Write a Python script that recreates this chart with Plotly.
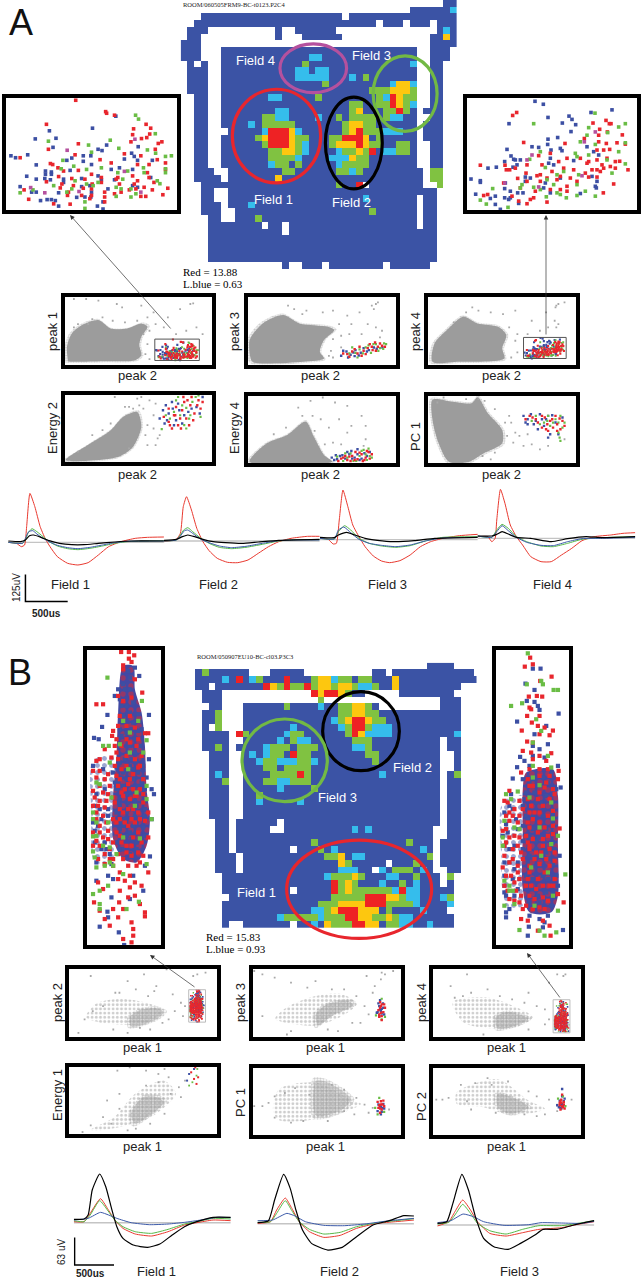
import re
import plotly.graph_objects as go

W, H = 642, 1280
BLUE, CYAN, GREEN, YELLOW, RED = "#3b53a5", "#35bdec", "#80c241", "#fdc70f", "#ee2224"
DOT_RED, DOT_BLUE, DOT_GREEN, DOT_PURPLE = "#e8262d", "#3c4fa3", "#6abd45", "#b5519e"
GREY = "#9c9c9c"

# ---------- occupancy maps: one text row per map row, token = rate class + column span ----------
MAP_A_ROWS = [
 "b39-40", "b34-39 c40", "b3-23 b25-40", "b2-28 b30-32 b34-36 b38-40",
 "b1-3 b14 b17-22 b38 c39 b40", "b1-2 b14 b18-23 b37-38 y39 b40", "b0-2 b37-40",
 "b0-2 b6-34 b37-39", "b0-2 b6-34 c19-20 b37-39", "b1 b3 b6-34 g18 c34 b37-38",
 "b1-3 b6-34 c17-18 c20-21 b37-38", "b1-3 b6-34 c17-21 c25 g27 b37-38",
 "b1-3 b6-34 g21 c31 y32-33 c34 b37-38", "b1-3 b6-34 g28-30 y31-33 g34 b37-38",
 "b2-3 b6-34 c13-14 g20 g29 c30 r31 y32 g33-34 b37-38",
 "b2-3 b6-34 g25-26 g29-30 r31 y32 g33 c34 b37-38",
 "b2-3 b6-34 c14-15 g25 y26 g30-31 r32 g33 b36-38",
 "b2-3 b6-34 g12-13 c14-15 c20 g23 g25-28 g30 c31-32 b37-38",
 "b2-3 b6-34 c10 g12-16 g24 y25-26 g27-28 b36-38",
 "b2-3 b7-34 c12 r13-15 y16 c17 g24 y25 r26 g27-29 c30-32 b36-38",
 "b2-3 b6-34 g11 y12 r13-15 y16 g17-18 g22-23 r24-26 y27 g29 b36-38",
 "b2-3 b6-34 g12 r13-15 y16 g17 c18 g22 y23-25 r26 y27 g28-29 g32-33 b37-38",
 "b2-3 b6-34 g13-14 y15-16 g17 c18 c23 g24-25 y26 g27 r28 c30-31 g32-33 b37-38",
 "b2-3 b6-34 g13-16 c17 c22-24 y25 g26-27 b37-38",
 "b2-3 b6-34 c13 g14-15 g17 c23 g24-27 b37-38",
 "b2-4 b7-35 g15-16 g23-24 c25 g26 g37-38", "b2-5 b7-35 y14 g37-38",
 "b3-5 b6-35 g23 r26 .27 g38", "b3-4 b7-36 b37", "b3-4 b7-34 c27 b36-37",
 "b3-5 b7-34 c10 b36-37", "b3-5 b8-34 g28 b36-37", "b4-5 b8-34 g11 b36-37",
 "b4-37 .12 .15 .35", "b4-37 .15", "b4-37", "b4-37", "b4-37", "b4-37",
 "b15 b18-20 b22-29 b31-36",
]
MAP_B_ROWS = [
 "b34-37", "b0 g1 b2-7 b11-15 b26-27 b29-40",
 "b0-3 c4 b5 r6 b7 c8 g9 b10-12 r13 b14-16 g17 y18-19 c20 g21-22 b23 g24-25 b26-28 y29 b30-41",
 "b0-1 b3-9 r10 y11 g12 r13 g14-15 r16 g17 y18-19 g20 y21-22 g23 c24-25 g26 b27-28 y29 b30-38",
 "b1-3 r17 y18 r19-20 y21 g22 b23-24 b30-37", "b1-3 g18 b36-38",
 "b2-3 b7-26 g13 c18 g21-22 y23-24 g25 b36-38",
 "b1-2 g3 b7-35 g21-22 y23-24 g25-26 b36-38",
 "b1-2 g3 b7-35 c20 g21 y22 r23-24 y25 g26-27 b36-38",
 "b1 g3 b7-35 c14 c21 g22 r23-24 g25 c26-28 b36-38",
 "b1-4 r6 g7 b8-35 c13 g14-15 g22 r23 y24 c25-28 b36-37 c38",
 "b1-4 b7-35 c12 g14 c15-16 g23-25 b37-38",
 "b1-2 g3 b4 b6 b7-35 c10 g11-13 g15-17 c23-24 g25 b37-38",
 "b2-4 b7-35 c8 c10 g11-12 r14 g15-16 g25-26 b38",
 "b2-4 b7-35 c9 g10-11 c12-14 g15-16 c17 g26 b38",
 "b2-4 b7-35 g10-11 g13-16 b38",
 "b2 c3 b4 b7-35 g11-14 r15 g16 c27 b37 g38",
 "b2-3 g4 b7-35 g10-11 c12-13 g14-16 b37-38", "b2-4 b7-35 c12 g17 b37-38",
 "b2-4 b7-35 g9 b37-38", "b2-4 b7-35 c9 c15 b37-38", "b2-4 b7-35 b37-38",
 "b2-4 b7-35 b37-38", "b3-4 b6-35 .12 b37-38", "b3-4 b6-34 .11-12 c23 c25 b37-38",
 "b3-4 b6-34 b37-38", "b3-4 b6-34 g17 g31 b36-38",
 "b3-4 b6-34 .14 g18 c20 c33 b36-38", "b3-5 b7-34 g19-20 y21 c23-24 g34 b36-38",
 "b3-5 b7-34 y21 g22 .28 g32 b36-38", "b3-5 b7-35 c21-23 .26 c27 g29-31 c33 .35 b37-38",
 "b4-35 c19 g20-21 g22 y23 g24 c28-29 g32 g37", "b4-35 r20 g21 y22 g23 c27 g30 c32 b37",
 "b4-36 .14 r20 g21 y22 g23-28 c29 r30 c31-32 b37",
 "b5-36 g20-24 r25-28 y28-29 g30 c31-32 c36 g37",
 "b4-36 g18-20 y21-24 r25-27 g28-31 c32 c37",
 "b4-36 c17-18 g19 y20 r21-23 y24-26 g28 c33",
 "b4-37 c12 g13-17 c18 g19-21 r22-23 y24-25 g26-27 y28 g29 c30-31",
 "b4 b7-13 b15-37 c17 y19 g20-22 r23-24 y25-26 g28-29 c30-31 c34",
]
RATE_CLASS = {"b": 1, "c": 2, "g": 3, "y": 4, "r": 5, ".": None}
MAP_COLS = 42

# place-field ellipses, in map columns / rows: x0, x1, y0, y1, colour
ELLIPSES_A = [(7.17, 20.3, 12.77, 26.7, "#e8262d"), (14.25, 24.15, 6.03, 13.26, "#b5519e"),
              (28.1, 37.6, 7.8, 19.05, "#72b944"), (21.0, 29.45, 13.95, 27.6, "#000000")]
ELLIPSES_B = [(12.98, 34.3, 25.58, 40.04, "#e8262d"), (18.27, 29.55, 3.76, 15.38, "#000000"),
              (6.41, 18.96, 7.78, 19.94, "#72b944")]

# ---------- enlarged cluster views ----------
IA_RED = [(222,27),(313,62),(316,67),(340,73),(133,101),(398,115),(436,101),(450,113),(447,131),(395,133),(422,145),(438,142),(390,155),(484,155),(230,161),(139,178),(53,204),(473,160),(464,178),(420,198),(370,192),(145,222),(152,225),(220,195),(296,210),(330,220),(410,225),(445,225),(470,210),(495,220),(168,235),(185,245),(230,243),(270,255),(350,265),(395,260),(440,250),(495,240),(170,262),(210,268),(250,270),(300,265),(345,270),(410,275),(445,265),(133,278),(180,285),(215,290),(272,285),(300,280),(355,285),(400,285),(460,280),(175,297),(200,310),(245,298),(270,300),(310,310),(385,303),(430,295),(455,303),(502,298),(65,303),(197,320),(240,320),(270,320),(310,325),(340,315),(420,323),(435,323),(487,318),(79,332),(205,347),(155,346),(265,330),(310,340),(360,310),(405,300)]
IA_BLUE = [(344,76),(273,113),(142,121),(99,146),(162,144),(153,172),(76,195),(25,198),(39,204),(290,178),(302,182),(316,165),(245,198),(268,198),(210,205),(195,212),(392,190),(412,170),(400,200),(370,208),(102,226),(130,245),(148,248),(130,255),(148,255),(205,243),(245,215),(270,225),(330,240),(355,235),(410,212),(455,212),(73,261),(102,270),(128,268),(145,272),(185,270),(185,280),(240,268),(290,260),(300,272),(340,272),(450,265),(53,293),(240,293),(265,290),(320,300),(395,290),(410,295),(88,310),(102,310),(170,312),(225,326),(270,310),(115,336),(135,333),(148,333),(160,336),(170,353),(250,325),(268,325),(288,353),(305,362),(305,340),(395,240)]
IA_GREEN = [(404,73),(413,85),(464,130),(139,153),(261,165),(327,150),(353,175),(270,187),(440,180),(465,190),(495,200),(513,198),(183,212),(216,230),(178,238),(255,240),(300,235),(380,245),(428,235),(495,238),(495,250),(350,250),(290,280),(255,285),(275,290),(430,250),(478,284),(220,275),(92,303),(53,312),(195,310),(210,300),(345,295),(360,300),(390,300),(405,315),(390,325),(345,323),(250,340),(250,360),(365,270),(470,275),(155,290)]
IA_PURPLE = [(196,181),(402,147),(85,296),(128,312),(232,308),(370,246),(420,310)]

IB_RED = [(157,75),(169,66),(437,90),(447,100),(398,98),(452,100),(418,117),(441,125),(486,134),(415,135),(190,157),(314,160),(372,145),(415,155),(438,160),(470,158),(495,162),(235,197),(270,190),(410,180),(430,180),(448,178),(60,226),(134,226),(138,240),(148,240),(165,235),(200,225),(245,225),(295,215),(320,205),(360,205),(385,215),(410,210),(440,205),(465,215),(478,214),(503,240),(197,250),(240,255),(275,245),(310,235),(340,240),(375,250),(395,240),(430,235),(450,230),(465,235),(172,266),(230,258),(260,265),(300,260),(330,265),(385,262),(410,262),(460,283),(200,275),(240,275),(290,270),(350,275),(425,225),(420,245),(380,220),(180,295),(225,305),(270,300),(320,290),(300,300),(320,305),(429,310),(70,318),(82,315),(155,320),(175,335),(210,330),(220,325),(260,338),(200,343),(130,280),(410,240)]
IB_BLUE = [(224,32),(249,41),(263,81),(326,77),(335,87),(146,100),(306,98),(346,103),(392,66),(455,58),(332,124),(263,147),(292,142),(215,170),(235,172),(262,163),(140,178),(272,180),(300,175),(305,182),(152,198),(160,208),(180,210),(165,210),(133,215),(83,235),(108,232),(158,232),(170,225),(270,205),(265,220),(280,225),(340,212),(380,170),(400,185),(415,195),(32,268),(60,273),(60,278),(195,262),(195,275),(135,280),(210,265),(255,280),(300,265),(395,260),(410,275),(405,290),(408,295),(133,297),(150,305),(172,310),(188,310),(46,314),(105,320),(90,327),(133,325),(150,325),(145,330),(105,345),(120,360),(250,295),(270,310),(360,312),(175,342)]
IB_GREEN = [(404,68),(220,100),(385,112),(495,100),(475,110),(380,135),(442,127),(495,158),(360,155),(405,163),(475,185),(385,195),(240,185),(345,190),(208,208),(350,200),(440,210),(495,222),(455,250),(255,233),(310,245),(290,255),(355,255),(97,297),(185,285),(180,295),(220,293),(260,270),(280,285),(350,285),(375,305),(405,320),(60,332),(78,344),(143,354),(258,322),(300,315),(318,325),(350,318),(290,310),(240,300)]
IB_PURPLE = [(405,125),(372,155),(215,195),(133,280),(200,210),(365,258),(235,292)]

IC_CORE = [(130,60),(160,60),(165,130),(185,200),(195,300),(200,430),(210,520),(200,600),(170,650),(130,640),(100,580),(100,450),(110,330),(115,200)]
IC_LOBE = [(40,345),(100,330),(100,640),(45,650),(35,500)]
IC_RED = [(124,18),(147,18),(163,28),(147,38),(155,48),(130,58),(50,175),(70,175),(130,70),(165,100),(187,140),(115,150),(130,165),(155,155),(100,255),(97,270),(195,262),(205,262),(75,310),(60,340),(50,345),(40,375),(60,375),(85,385),(95,335),(110,320),(125,300),(180,360),(165,340),(150,400),(120,400),(90,420),(45,455),(60,465),(80,465),(105,470),(135,430),(170,450),(190,470),(50,500),(70,510),(100,520),(130,500),(160,490),(180,520),(40,560),(60,560),(85,555),(110,560),(145,540),(175,560),(205,575),(60,600),(90,610),(125,590),(155,600),(190,630),(75,655),(100,640),(130,640),(155,630),(170,660),(120,680),(150,690),(205,680),(115,700),(135,705),(165,710),(55,710),(120,735),(150,725),(185,720),(70,730),(165,750),(145,755),(180,775),(43,770),(118,770),(130,790),(195,800),(195,812),(75,820),(115,815),(155,830),(160,850),(160,870),(130,880),(155,890),(90,840),(100,790),(60,795),(120,210),(150,210),(110,280),(140,280),(175,280),(125,370),(160,430),(120,520),(140,600),(130,450),(155,520),
 (115,240),(140,240),(165,245),(105,300),(150,290),(170,300),(115,340),(140,330),(185,330),(105,360),(140,360),(175,365),(110,390),(160,385),(190,400),(115,420),(145,415),(180,430),(125,440),(165,450),(190,445),(100,455),(150,460),(120,490),(145,490),(175,500),(205,500),(110,530),(135,530),(165,530),(195,525),(120,570),(160,575),(185,590),(100,590),(140,620),(175,620),(115,625),(100,660),(145,660),(180,650),(50,395),(75,400),(60,420),(40,435),(70,440),(85,445),(55,480),(75,485),(40,480),(50,520),(80,530),(60,540),(70,575),(50,585),(85,580),(40,600),(75,625),(55,640),(90,640)]
IC_BLUE = [(130,70),(145,75),(165,65),(150,95),(178,90),(115,130),(105,150),(135,130),(125,180),(160,170),(83,207),(207,207),(67,243),(43,276),(57,280),(185,250),(130,230),(160,230),(140,260),(165,280),(180,300),(120,300),(145,320),(165,320),(207,340),(40,360),(70,370),(120,350),(150,360),(175,380),(100,380),(130,380),(200,395),(215,430),(222,445),(130,420),(150,440),(175,420),(110,430),(120,460),(145,470),(170,480),(195,490),(60,490),(85,490),(215,520),(110,500),(135,520),(165,510),(190,545),(40,530),(55,540),(120,550),(150,560),(180,580),(45,590),(75,590),(110,590),(130,610),(155,580),(210,632),(50,650),(90,625),(170,610),(195,660),(85,690),(100,700),(160,690),(50,705),(190,735),(95,755),(60,843),(117,860),(133,898),(83,798),(85,815),(150,760),(120,480),(140,400),(155,340),(130,540),(160,540),(115,410),
 (130,115),(150,130),(120,160),(140,180),(150,200),(130,210),(175,205),(120,250),(155,250),(175,255),(125,270),(150,300),(135,340),(170,345),(110,365),(160,370),(190,360),(125,395),(160,400),(105,410),(185,410),(140,445),(195,430),(115,470),(165,465),(140,500),(195,510),(120,530),(170,530),(195,570),(140,570),(170,590),(120,610),(150,625),(50,445),(75,430),(45,480),(65,520),(85,510),(45,555),(65,610),(80,610),(95,655)]
IC_GREEN = [(83,95),(186,165),(130,225),(150,260),(175,225),(200,283),(70,300),(87,300),(120,295),(90,350),(150,320),(190,320),(145,370),(50,410),(60,415),(170,440),(200,420),(95,455),(200,460),(40,500),(40,520),(50,530),(85,530),(215,520),(130,575),(180,578),(40,572),(50,570),(70,600),(90,605),(40,617),(45,635),(110,625),(90,650),(50,665),(75,660),(200,655),(100,660),(130,685),(85,720),(60,735),(40,745),(177,768),(60,775),(60,790),(140,790),(165,480)]

ID_CORE = [(110,380),(190,370),(205,450),(205,600),(205,750),(185,800),(120,800),(100,730),(100,550),(100,430)]
ID_LOBE = [(40,470),(100,450),(100,780),(50,780),(35,620)]
ID_RED = [(122,35),(106,62),(130,55),(186,92),(152,105),(118,152),(142,150),(158,152),(120,185),(125,190),(113,210),(150,210),(127,230),(145,240),(165,245),(97,254),(190,254),(150,265),(180,268),(113,287),(130,290),(100,315),(125,320),(185,322),(207,375),(95,380),(205,400),(195,445),(60,435),(45,465),(55,470),(90,465),(120,420),(150,440),(170,410),(60,500),(75,490),(100,490),(125,480),(160,480),(190,495),(210,548),(60,525),(85,530),(115,530),(150,530),(40,555),(75,570),(110,570),(145,560),(175,570),(50,590),(85,600),(120,610),(160,600),(195,620),(45,630),(70,640),(100,640),(135,640),(170,640),(50,690),(85,680),(120,680),(165,680),(195,700),(45,720),(75,710),(110,720),(140,730),(180,720),(60,760),(75,765),(90,770),(120,750),(160,755),(205,745),(222,770),(100,790),(130,790),(165,790),(95,820),(115,825),(180,840),(160,825),(183,870),(145,855),(120,600),(135,500),(155,620),
 (50,510),(70,510),(90,510),(50,550),(60,575),(90,575),(45,600),(70,610),(95,620),(60,650),(85,660),(40,665),(65,690),(90,700),(55,735),(80,735),(95,750),(115,400),(150,390),(180,390),(130,420),(165,425),(190,430),(115,460),(145,460),(180,460),(120,500),(150,500),(175,510),(130,520),(190,540),(120,545),(165,545),(130,580),(160,580),(190,565),(115,590),(140,620),(180,610),(195,645),(120,660),(150,655),(180,660),(115,700),(145,700),(190,720),(125,720),(160,720),(135,760),(175,765),(110,780),(150,785),(130,340),(150,330),(170,345),(120,370),(150,370),(175,370)]
ID_BLUE = [(130,68),(153,68),(108,113),(135,132),(112,165),(135,168),(145,180),(150,192),(207,203),(83,227),(170,240),(135,265),(130,300),(175,295),(150,310),(92,333),(105,345),(130,330),(165,335),(205,360),(83,364),(120,360),(185,380),(70,398),(100,400),(130,400),(160,395),(213,425),(200,430),(65,445),(110,440),(140,470),(170,450),(100,480),(70,490),(45,500),(130,510),(160,510),(190,525),(50,535),(85,550),(130,550),(170,550),(40,570),(100,585),(140,585),(190,590),(210,630),(60,610),(100,610),(140,610),(170,620),(45,650),(75,670),(115,650),(150,660),(190,655),(45,690),(90,700),(130,700),(175,700),(200,690),(50,750),(45,740),(85,730),(130,730),(170,740),(205,720),(120,770),(150,770),(185,780),(60,790),(50,800),(50,815),(120,810),(150,820),(175,810),(118,843),(160,845),(220,853),(115,870),(165,830),(135,440),(110,510),(150,440),(120,630),
 (120,410),(175,410),(105,460),(155,470),(115,520),(190,505),(150,575),(120,575),(195,610),(165,600),(130,635),(180,640),(110,690),(160,690),(120,750),(145,750),(190,740),(100,540),(60,480),(80,520),(55,560),(75,600),(45,600),(60,650),(85,650),(70,700),(45,720),(75,750)]
ID_GREEN = [(115,22),(155,105),(160,115),(112,115),(192,132),(205,132),(65,180),(98,172),(140,220),(155,255),(130,290),(175,330),(130,360),(185,365),(130,395),(150,418),(50,445),(85,437),(120,455),(65,460),(185,470),(190,518),(45,525),(75,545),(90,550),(150,545),(40,575),(205,570),(185,595),(40,600),(155,630),(125,665),(175,680),(227,686),(45,705),(60,720),(60,735),(70,735),(190,750),(45,780),(75,775),(205,795),(90,853),(165,870),(200,860),(150,855),(135,780)]

# ---------- small feature-space panels: dense regions, loose grey spikes, cluster spikes ----------
A1_DENSE = [(15,22),(13,62),(25,102),(50,127),(90,142),(120,117),(160,117),(195,132),(210,122),(195,92),(190,67),(195,37),(180,22),(100,19),(15,19)]
A2_DENSE = [(15,22),(11,82),(43,132),(93,157),(133,132),(203,122),(218,112),(193,82),(183,47),(193,27),(143,17),(23,14)]
A3_DENSE = [(18,17),(23,72),(53,112),(93,152),(128,132),(178,122),(198,97),(188,57),(193,27),(83,17)]
A4_DENSE = [(10,15),(70,65),(120,105),(150,145),(185,160),(195,115),(175,55),(140,25),(65,13)]
A5_DENSE = [(11,13),(53,68),(103,93),(148,133),(168,88),(193,33),(213,13)]
A6_DENSE = [(18,198),(63,193),(113,188),(128,206),(153,158),(188,108),(188,68),(143,38),(108,13),(58,13),(33,68),(18,138)]
B1_DENSE = [(156,67),(178,87),(218,94),(238,82),(223,62),(183,42),(158,39)]
B2_DENSE = [(161,77),(191,107),(241,115),(251,102),(201,72),(166,42)]
B3_DENSE = [(160,67),(190,82),(240,62),(210,42),(165,32)]
B4_DENSE = [(158,70),(188,120),(223,120),(238,105),(198,60),(168,40)]
B5_DENSE = [(161,172),(191,167),(246,117),(221,82),(161,67)]
B6_DENSE = [(165,132),(210,117),(240,92),(195,72),(165,92)]
B1_HAZE = [(48,67),(73,107),(128,122),(188,112),(238,87),(188,47),(78,52)]
B2_HAZE = [(61,62),(91,97),(151,127),(221,137),(261,107),(221,67),(161,42),(81,52)]
B3_HAZE = [(55,112),(130,127),(190,107),(250,67),(210,37),(160,32),(80,52)]
B4_HAZE = [(58,20),(118,60),(168,130),(238,170),(268,130),(208,60),(148,35),(73,18)]
B5_HAZE = [(71,147),(161,167),(251,112),(271,102),(191,62),(71,52),(56,82)]
B6_HAZE = [(65,137),(165,177),(240,112),(280,87),(200,67),(130,92),(65,102)]

A1_LOOSE = [(30,205),(60,205),(90,200),(135,190),(148,180),(195,185),(225,165),(260,150),(290,175),(315,190),(322,192),(210,150),(230,130),(250,120),(215,110),(280,100),(305,110),(330,120),(200,100),(210,70),(205,40),(215,25),(30,120),(40,130),(65,130),(100,150),(75,145),(125,140),(155,135),(185,140),(345,100)]
A2_LOOSE = [(105,185),(120,175),(150,170),(190,165),(215,170),(250,155),(280,165),(310,185),(320,190),(325,195),(315,175),(230,130),(260,130),(300,130),(320,120),(235,95),(215,85),(235,60),(210,50),(205,35),(215,30),(140,160),(255,100),(285,100),(330,90),(335,110)]
A3_LOOSE = [(115,180),(130,170),(160,165),(190,160),(220,170),(260,140),(295,165),(318,180),(320,185),(325,190),(340,195),(316,140),(325,130),(320,120),(205,120),(225,100),(220,80),(225,45),(210,30),(250,100),(280,110),(300,120),(70,135),(100,165)]
A4_LOOSE = [(130,205),(185,200),(195,205),(215,195),(230,185),(225,150),(210,120),(205,90),(225,110),(235,80),(190,180),(175,170),(165,175),(200,170),(155,175),(120,125),(100,105),(165,50),(210,60),(40,40),(75,90),(240,90),(230,60)]
A5_LOOSE = [(130,175),(160,195),(190,205),(220,190),(250,180),(285,150),(295,120),(295,80),(290,60),(230,140),(205,115),(185,140),(165,150),(250,100),(260,120),(215,70),(195,65),(235,65),(100,115),(70,95),(140,150),(170,105)]
A6_LOOSE = [(130,200),(145,195),(170,170),(195,130),(210,130),(220,100),(230,90),(215,70),(240,60),(260,65),(280,50),(300,60),(340,80),(200,90),(205,150),(170,40),(140,30),(160,20),(30,190),(45,205),(100,200),(250,95)]
B1_LOOSE = [(60,190),(190,195),(245,210),(310,190),(320,195),(340,200),(150,175),(170,150),(220,160),(260,135),(280,110),(265,85),(285,70),(215,145),(200,130),(130,140),(120,140),(90,100),(65,85),(45,60),(30,20),(235,50),(250,60),(290,100),(180,35),(205,30),(115,30),(150,20)]
B2_LOOSE = [(10,205),(30,195),(60,185),(100,170),(140,155),(160,175),(200,150),(230,150),(260,130),(300,140),(320,180),(322,200),(330,195),(350,205),(285,190),(280,100),(290,75),(270,50),(250,50),(215,25),(190,30),(100,25),(90,15),(30,70),(305,160)]
B3_LOOSE = [(60,125),(80,130),(100,140),(140,150),(170,130),(200,120),(230,110),(260,100),(280,90),(310,195),(325,190),(330,195),(290,170),(240,140),(290,60),(280,45),(240,30),(130,15),(90,195),(20,215),(50,160)]
B4_LOOSE = [(125,200),(155,210),(195,200),(225,190),(240,205),(250,180),(290,170),(275,150),(255,130),(280,120),(225,165),(195,155),(130,130),(100,110),(90,60),(110,40),(150,20),(240,70),(205,40),(170,25),(40,15),(60,35),(130,85)]
B5_LOOSE = [(10,95),(30,95),(45,105),(60,125),(85,135),(110,150),(145,130),(200,160),(230,145),(260,120),(280,100),(300,90),(340,85),(290,75),(255,70),(60,60),(100,45),(130,50),(190,50),(230,80)]
B6_LOOSE = [(15,115),(30,115),(45,120),(75,160),(110,165),(140,180),(150,160),(190,170),(240,140),(260,125),(290,115),(310,100),(345,115),(280,70),(260,65),(90,110),(100,85),(160,75),(310,80),(230,70)]

A2_RED = [(250,40),(262,48),(275,42),(290,50),(300,58),(312,52),(325,62),(335,65),(285,35),(305,70),(240,42),(255,32),(268,55),(280,62),(295,40),(310,62),(320,50),(330,72),(342,62),(318,75)]
A2_BLUE = [(235,35),(248,48),(258,38),(270,52),(283,44),(298,48),(315,60),(268,34),(240,50),(252,30),(265,45),(278,36),(290,58),(303,52),(322,56),(336,60)]
A2_GREEN = [(280,54),(295,60),(308,44),(320,70),(330,58),(262,60),(340,72),(275,30),(255,42),(270,44),(288,42),(302,66),(314,70),(326,50),(338,56),(345,70)]
A4_RED = [(262,130),(275,150),(285,120),(295,165),(305,140),(315,180),(325,155),(335,195),(318,205),(300,190),(290,140),(340,170),(270,110),(250,145),(265,120),(280,175),(292,110),(308,195),(322,135),(332,180),(345,190),(298,205),(278,150),(312,120),(262,170)]
A4_BLUE = [(240,140),(252,125),(262,155),(280,135),(272,170),(295,125),(310,160),(255,180),(285,185),(330,175),(248,165),(258,135),(275,120),(288,165),(300,150),(318,170),(270,190),(338,155),(345,205)]
A4_GREEN = [(290,150),(300,120),(312,140),(320,190),(280,195),(265,140),(328,205),(305,172),(245,108),(255,150),(275,160),(285,205),(295,180),(315,150),(340,145),(305,110),(335,210)]
A5_RED = [(235,22),(250,18),(262,30),(275,20),(285,35),(295,25),(302,42),(270,42),(245,30),(288,15),(228,15),(240,25),(255,28),(268,18),(280,40),(292,18),(305,22),(258,15),(310,35),(298,45)]
A5_BLUE = [(212,25),(225,20),(238,32),(255,35),(268,25),(280,18),(292,38),(260,45),(218,18),(275,50),(232,30),(245,22),(262,22),(275,35),(285,22),(298,30),(250,42),(305,42),(222,32)]
A5_GREEN = [(250,25),(265,15),(280,30),(298,18),(305,30),(290,48),(240,15),(302,52),(225,28),(258,38),(272,15),(285,45),(295,35),(310,25),(245,38)]
A6_RED = [(262,145),(275,130),(285,150),(298,125),(310,140),(322,125),(335,135),(300,105),(285,115),(330,110),(245,140),(255,150),(270,140),(292,145),(305,135),(318,150),(328,142),(340,120),(312,115),(322,105),(295,110)]
A6_BLUE = [(240,150),(250,140),(265,125),(280,155),(295,140),(310,152),(275,110),(300,85),(250,125),(325,95),(245,130),(258,155),(270,135),(285,140),(300,150),(318,130),(335,145),(290,120),(305,95)]
A6_GREEN = [(290,130),(305,120),(318,140),(330,150),(328,85),(325,100),(270,150),(340,130),(260,135),(280,125),(298,135),(312,130),(325,130),(335,115),(330,75),(300,150)]
B2_RED = [(320,100),(314,88),(326,82),(318,112),(330,95),(322,70),(316,75),(322,58),(318,95),(322,105),(316,68),(328,105),(320,80)]
B2_BLUE = [(322,92),(316,100),(325,108),(312,82),(320,85),(328,75),(318,118),(310,80),(318,90),(322,78),(314,108),(326,95),(316,70)]
B2_GREEN = [(308,72),(322,60),(330,68),(322,122)]
B4_RED = [(315,210),(322,180),(305,195),(318,160),(312,175)]
B4_BLUE = [(300,190),(312,205),(295,170)]
B4_GREEN = [(308,165),(318,185),(300,155),(320,205)]
B5_RED = [(320,100),(314,90),(326,112),(318,75),(322,85),(312,108),(328,95),(318,88),(324,100),(316,98),(320,110)]
B5_BLUE = [(318,95),(312,80),(324,90),(320,70),(326,102),(320,92),(314,100),(322,78),(328,88)]
B5_GREEN = [(306,90),(316,120),(328,78),(312,70)]
B6_RED = [(322,95),(316,105),(328,88),(320,115),(326,100),(318,85),(322,130),(320,105),(324,92),(316,98),(318,110),(326,108)]
B6_BLUE = [(320,100),(314,92),(326,110),(322,147),(318,90),(310,98),(328,118),(322,102),(318,98),(324,96),(316,112),(320,88),(322,125)]
B6_GREEN = [(312,118),(324,125),(330,95)]

# ---------- averaged waveforms: (sample, level) readings, level grows downward ----------
WA1_RED = [(20,787),(40,790),(52,800),(60,795),(65,740),(73,640),(85,680),(98,740),(110,775),(122,800),(140,830),(165,850),(190,855),(215,848),(240,825),(265,800),(295,785),(330,775),(360,772),(400,771)]
WA1_GREEN = [(20,787),(55,790),(62,780),(68,760),(78,746),(90,755),(105,770),(120,785),(140,798),(165,806),(190,809),(220,805),(250,798),(280,790),(310,785),(400,782)]
WA1_BLUE = [(20,787),(55,790),(62,775),(70,755),(80,752),(90,762),(105,775),(120,785),(140,796),(165,803),(190,806),(220,802),(250,795),(280,788),(310,784),(400,783)]
WA1_BLACK = [(20,783),(50,785),(62,780),(72,767),(82,765),(100,772),(120,782),(145,790),(175,794),(205,794),(240,790),(280,786),(320,783),(400,783)]
WA2_RED = [(400,785),(430,778),(440,760),(447,680),(455,650),(467,690),(480,745),(495,785),(510,812),(530,835),(555,847),(580,848),(605,840),(630,820),(655,800),(680,785),(710,775),(750,769),(780,769)]
WA2_GREEN = [(400,783),(430,780),(440,765),(448,750),(458,743),(470,755),(490,775),(510,790),(535,802),(565,806),(600,802),(640,793),(680,783),(720,779),(780,779)]
WA2_BLUE = [(400,783),(430,780),(440,768),(450,752),(458,750),(470,760),(490,778),(510,788),(535,798),(565,803),(600,799),(640,790),(680,782),(720,780),(780,780)]
WA2_BLACK = [(400,781),(430,778),(445,770),(458,765),(475,770),(495,778),(520,785),(550,788),(590,790),(630,786),(680,781),(780,778)]
WA3_RED = [(780,773),(800,778),(812,792),(820,790),(827,720),(836,630),(848,680),(860,735),(875,770),(890,800),(910,828),(930,843),(950,848),(975,842),(1000,825),(1025,800),(1050,785),(1080,775),(1120,767),(1165,763)]
WA3_GREEN = [(780,775),(815,777),(825,755),(840,737),(855,750),(875,775),(900,790),(930,798),(965,802),(1000,797),(1040,782),(1080,772),(1165,770)]
WA3_BLUE = [(780,775),(815,777),(825,750),(838,741),(855,758),(875,778),(900,790),(930,796),(965,800),(1000,795),(1040,782),(1080,774),(1165,772)]
WA3_BLACK = [(780,772),(815,773),(825,765),(845,757),(865,765),(890,775),(920,781),(960,785),(1010,782),(1060,775),(1165,772)]
WA4_RED = [(1165,770),(1190,770),(1200,785),(1208,775),(1212,720),(1221,628),(1232,670),(1245,735),(1260,770),(1275,795),(1295,830),(1320,845),(1345,845),(1370,825),(1395,805),(1420,782),(1450,770),(1490,765),(1520,760),(1550,758)]
WA4_GREEN = [(1165,768),(1200,772),(1212,750),(1225,733),(1240,745),(1260,770),(1285,785),(1320,798),(1350,800),(1385,790),(1420,778),(1470,773),(1550,770)]
WA4_BLUE = [(1165,768),(1200,772),(1212,755),(1225,737),(1240,752),(1260,772),(1285,787),(1320,796),(1350,797),(1385,785),(1420,776),(1470,775),(1550,772)]
WA4_BLACK = [(1165,768),(1200,768),(1212,763),(1225,755),(1240,762),(1260,772),(1295,775),(1345,785),(1385,776),(1430,770),(1470,773),(1550,770)]
WB1_BLACK = [(180,778),(205,777),(215,765),(225,690),(243,642),(258,680),(272,745),(285,800),(300,835),(325,855),(360,862),(390,852),(420,825),(450,800),(480,785),(520,772),(563,772)]
WB1_RED = [(180,785),(205,785),(220,760),(245,716),(262,745),(280,780),(300,805),(330,822),(370,828),(410,815),(450,795),(480,788),(520,780),(563,782)]
WB1_GREEN = [(180,782),(205,785),(220,765),(243,722),(262,750),(280,780),(300,800),(330,815),(370,820),(410,808),(450,792),(480,785),(520,775),(563,777)]
WB1_BLUE = [(180,780),(215,775),(245,757),(265,765),(285,775),(320,788),(365,794),(410,792),(450,787),(490,780),(530,772),(563,773)]
WB2_BLACK = [(628,788),(655,782),(670,720),(692,643),(708,685),(722,750),(738,810),(760,850),(800,870),(835,862),(870,830),(910,795),(950,782),(985,767),(1010,768)]
WB2_RED = [(628,790),(660,785),(675,750),(696,714),(712,745),(730,785),(755,815),(790,832),(830,826),(870,805),(920,790),(965,785),(1010,780)]
WB2_GREEN = [(628,787),(660,785),(675,760),(696,722),(712,752),(730,785),(755,808),(790,822),(830,817),(870,800),(920,788),(965,782),(1010,776)]
WB2_BLUE = [(628,782),(665,780),(700,760),(720,768),(745,785),(790,796),(840,797),(890,792),(950,782),(1010,775)]
WB3_BLACK = [(1067,790),(1090,785),(1105,730),(1127,643),(1143,690),(1160,770),(1180,835),(1205,860),(1240,868),(1270,850),(1305,825),(1325,808),(1360,808),(1400,795),(1450,782)]
WB3_RED = [(1067,798),(1095,785),(1110,755),(1129,720),(1148,750),(1165,785),(1195,820),(1235,828),(1275,818),(1315,808),(1370,803),(1410,793),(1450,785)]
WB3_GREEN = [(1067,792),(1095,787),(1110,765),(1129,733),(1148,760),(1165,790),(1195,812),(1235,822),(1275,808),(1315,797),(1370,797),(1410,790),(1450,782)]
WB3_BLUE = [(1067,788),(1100,782),(1130,762),(1155,770),(1180,785),(1230,796),(1290,794),(1320,788),(1370,789),(1420,790),(1450,784)]

fig = go.Figure()
layout = dict(width=W, height=H, margin=dict(l=0, r=0, t=0, b=0), autosize=False,
              paper_bgcolor="white", plot_bgcolor="rgba(0,0,0,0)", showlegend=False)
shapes, annotations = [], []
axis_count = 0


def new_axes(left, right, top, bottom, xr, yr, frame=0.0):
    """Add one x/y axis pair occupying the given picture box; returns trace refs."""
    global axis_count
    axis_count += 1
    n = "" if axis_count == 1 else str(axis_count)
    common = dict(showgrid=False, zeroline=False, showticklabels=False, ticks="",
                  fixedrange=True, showline=frame > 0, mirror=frame > 0,
                  linecolor="black", linewidth=max(frame, 1))
    layout[f"xaxis{n}"] = dict(common, domain=[left / W, right / W], range=list(xr), anchor=f"y{n}")
    layout[f"yaxis{n}"] = dict(common, domain=[1 - bottom / H, 1 - top / H], range=list(yr), anchor=f"x{n}")
    return f"x{n}", f"y{n}"


def label(x, y, text, size=13, color="#222222", family="Liberation Sans", angle=0, bold=False, anchor="center"):
    annotations.append(dict(x=x / W, y=1 - y / H, xref="paper", yref="paper", text=f"<b>{text}</b>" if bold else text,
                            showarrow=False, font=dict(size=size, color=color, family=family),
                            textangle=angle, xanchor=anchor, yanchor="middle"))


def pointer(x0, y0, x1, y1, head=True):
    annotations.append(dict(x=x1 / W, y=1 - y1 / H, ax=x0 - x1, ay=y0 - y1, xref="paper", yref="paper",
                            text="", showarrow=True,
                            arrowhead=2 if head else 0, arrowsize=1.3, arrowwidth=0.7, arrowcolor="#333333"))


def dots(pts, color, size, xa, ya, symbol="square"):
    fig.add_trace(go.Scatter(x=[p[0] for p in pts], y=[p[1] for p in pts], mode="markers", xaxis=xa, yaxis=ya,
                             marker=dict(color=color, size=size, symbol=symbol, line=dict(width=0)), hoverinfo="skip"))


def region(pts, color, xa, ya, pattern=None):
    kw = dict(fillcolor=color)
    if pattern:
        kw["fillpattern"] = pattern
    fig.add_trace(go.Scatter(x=[p[0] for p in pts] + [pts[0][0]], y=[p[1] for p in pts] + [pts[0][1]], mode="lines",
                             fill="toself", line=dict(color="rgba(0,0,0,0)", width=0, shape="spline", smoothing=0.8),
                             xaxis=xa, yaxis=ya, hoverinfo="skip", **kw))


def halo(pts, k):
    cx = sum(p[0] for p in pts) / len(pts)
    cy = sum(p[1] for p in pts) / len(pts)
    return [(cx + (p[0] - cx) * k, cy + (p[1] - cy) * k) for p in pts]


def speckle(pts, xa, ya, size=3.4, solidity=0.45, color=GREY):
    region(pts, "rgba(0,0,0,0)", xa, ya, pattern=dict(shape=".", fgcolor=color, bgcolor="rgba(0,0,0,0)",
                                                      size=size, solidity=solidity))


def to_selection(pts, xr, yr, sel):
    """Place points of an enlarged view back into the selection box they were enlarged from."""
    return [(sel[0] + (p[0] - xr[0]) / (xr[1] - xr[0]) * (sel[1] - sel[0]),
             sel[2] + (p[1] - yr[0]) / (yr[1] - yr[0]) * (sel[3] - sel[2])) for p in pts]


def draw_map(rows, ellipses, left, right, top, bottom, xr, yr):
    z = []
    for row in rows:
        cells = [None] * MAP_COLS
        for m in re.finditer(r"([bcgyr.])(\d+)(?:-(\d+))?", row):
            a = int(m.group(2))
            b = int(m.group(3) or a)
            for c in range(a, b + 1):
                cells[c] = RATE_CLASS[m.group(1)]
        z.append(cells)
    xa, ya = new_axes(left, right, top, bottom, xr, yr)
    scale = [[0, BLUE], [0.2, BLUE], [0.2, CYAN], [0.4, CYAN], [0.4, GREEN], [0.6, GREEN],
             [0.6, YELLOW], [0.8, YELLOW], [0.8, RED], [1, RED]]
    fig.add_trace(go.Heatmap(z=z, x=list(range(MAP_COLS)), y=list(range(len(z))), xaxis=xa, yaxis=ya,
                             zmin=0.5, zmax=5.5, colorscale=scale, showscale=False, hoverinfo="skip"))
    for x0, x1, y0, y1, col in ellipses:
        shapes.append(dict(type="circle", xref=xa, yref=ya, x0=x0, x1=x1, y0=y0, y1=y1,
                           line=dict(color=col, width=3.2), layer="above"))


def draw_small(box, dense, loose, red, blue, green, haze=None, sel=None, sel_color="#555555", dot=2.4):
    xa, ya = new_axes(box[0] + 3, box[1] - 3, box[2] + 3, box[3] - 3, (7, 368), (9, 211), frame=3.6)
    if haze:
        speckle(haze, xa, ya, size=4.2, solidity=0.36)
        speckle(halo(dense, 1.18), xa, ya, size=3, solidity=0.5)
        speckle(dense, xa, ya, size=2.4, solidity=0.8)
    else:
        speckle(halo(dense, 1.06), xa, ya, size=2.6, solidity=0.6)
        region(dense, GREY, xa, ya)
    dots(loose, "#a8a8a8", 1.8, xa, ya)
    dots(blue, DOT_BLUE, dot, xa, ya)
    dots(green, DOT_GREEN, dot - 0.2, xa, ya)
    dots(red, DOT_RED, dot, xa, ya)
    if sel:
        shapes.append(dict(type="rect", xref=xa, yref=ya, x0=sel[0], x1=sel[1], y0=sel[2], y1=sel[3],
                           line=dict(color=sel_color, width=1), layer="above"))


def draw_inset(box, xr, yr, red, blue, green, purple=None, core=None, lobe=None, size=3.6):
    xa, ya = new_axes(box[0] + 3, box[1] - 3, box[2] + 3, box[3] - 3, xr, yr, frame=4.2)
    if lobe:
        speckle(lobe, xa, ya, size=7, solidity=0.4, color=DOT_BLUE)
    if core:
        region(core, "rgba(0,0,0,0)", xa, ya, pattern=dict(shape=".", fgcolor=DOT_RED, bgcolor="#4348a3", size=8, solidity=0.35))
    dots(blue, DOT_BLUE, size, xa, ya)
    dots(red, DOT_RED, size, xa, ya)
    dots(green, DOT_GREEN, size, xa, ya)
    if purple:
        dots(purple, DOT_PURPLE, size, xa, ya)


def draw_wave(series, base_level, start, end, kt, ku, px_left, px_scale, top, bottom, lv_top, lv_bot, base_line):
    xa, ya = new_axes(px_left, px_left + (end - start) / px_scale, top, bottom,
                      (0, (end - start) * kt), ((base_level - lv_bot) * ku, (base_level - lv_top) * ku))
    fig.add_trace(go.Scatter(x=[0, (end - start) * kt], y=[(base_level - base_line) * ku] * 2, mode="lines",
                             line=dict(color="#c4c4c4", width=1.4), xaxis=xa, yaxis=ya, hoverinfo="skip"))
    for pts, col, w in series:
        fig.add_trace(go.Scatter(x=[(p[0] - start) * kt for p in pts], y=[(base_level - p[1]) * ku for p in pts],
                                 mode="lines", line=dict(color=col, width=w, shape="spline", smoothing=0.5),
                                 xaxis=xa, yaxis=ya, hoverinfo="skip"))
    return xa, ya


WRED, WGREEN, WBLUE = "#e8392f", "#55b848", "#3c5aa8"

# maps
draw_map(MAP_A_ROWS, ELLIPSES_A, 180.7, 180.7 + 41 * 6.73, 0, 269, (-0.5, 40.5), (39.5, -0.5))
draw_map(MAP_B_ROWS, ELLIPSES_B, 195, 195 + 41.4 * 6.8, 662.7, 662.7 + 42 * 6.8, (-0.5, 40.9), (41.5, -0.5))

# enlarged views
VA_X, VA_Y = (10, 530), (365, 20)
VB_X, VB_Y = (20, 530), (362, 22)
VC_X, VC_Y = (22, 243), (898, 12)
VD_X, VD_Y = (20, 238), (898, 12)
draw_inset((3, 180, 95, 213), VA_X, VA_Y, IA_RED, IA_BLUE, IA_GREEN, IA_PURPLE)
draw_inset((464, 640, 95, 213), VB_X, VB_Y, IB_RED, IB_BLUE, IB_GREEN, IB_PURPLE)
draw_inset((84, 164, 647, 948), VC_X, VC_Y, IC_RED, IC_BLUE, IC_GREEN, core=IC_CORE, lobe=IC_LOBE, size=4.2)
draw_inset((493, 572, 647, 948), VD_X, VD_Y, ID_RED, ID_BLUE, ID_GREEN, core=ID_CORE, lobe=ID_LOBE, size=4.2)

# small panels, section A
SEL_A1, SEL_A3, SEL_B1, SEL_B3 = (228, 337, 21, 85), (240, 344, 27, 90), (299, 340, 52, 149), (300, 341, 20, 119)
draw_small((61.5, 215, 294, 367.5), A1_DENSE, A1_LOOSE, to_selection(IA_RED, VA_X, VA_Y, SEL_A1),
           to_selection(IA_BLUE, VA_X, VA_Y, SEL_A1), to_selection(IA_GREEN, VA_X, VA_Y, SEL_A1), sel=SEL_A1, dot=2.1)
draw_small((245, 398.5, 294, 367.5), A2_DENSE, A2_LOOSE, A2_RED, A2_BLUE, A2_GREEN)
draw_small((425, 579, 294, 367.5), A3_DENSE, A3_LOOSE, to_selection(IB_RED, VB_X, VB_Y, SEL_A3),
           to_selection(IB_BLUE, VB_X, VB_Y, SEL_A3), to_selection(IB_GREEN, VB_X, VB_Y, SEL_A3), sel=SEL_A3, dot=2.1)
draw_small((61.5, 215, 392, 465), A4_DENSE, A4_LOOSE, A4_RED, A4_BLUE, A4_GREEN)
draw_small((245, 398.5, 392.5, 466), A5_DENSE, A5_LOOSE, A5_RED, A5_BLUE, A5_GREEN)
draw_small((425, 579, 392.5, 466), A6_DENSE, A6_LOOSE, A6_RED, A6_BLUE, A6_GREEN)
# small panels, section B
draw_small((66, 220, 966, 1039.5), B1_DENSE, B1_LOOSE, to_selection(IC_RED, VC_X, VC_Y, SEL_B1),
           to_selection(IC_BLUE, VC_X, VC_Y, SEL_B1), to_selection(IC_GREEN, VC_X, VC_Y, SEL_B1), B1_HAZE, SEL_B1, "#bbbbbb", dot=1.6)
draw_small((250, 403.5, 966, 1039.5), B2_DENSE, B2_LOOSE, B2_RED, B2_BLUE, B2_GREEN, B2_HAZE)
draw_small((430, 584, 966, 1039.5), B3_DENSE, B3_LOOSE, to_selection(ID_RED, VD_X, VD_Y, SEL_B3),
           to_selection(ID_BLUE, VD_X, VD_Y, SEL_B3), to_selection(ID_GREEN, VD_X, VD_Y, SEL_B3), B3_HAZE, SEL_B3, "#bbbbbb", dot=1.6)
draw_small((66, 220, 1064, 1137), B4_DENSE, B4_LOOSE, B4_RED, B4_BLUE, B4_GREEN, B4_HAZE, dot=2)
draw_small((250, 403.5, 1065, 1137.5), B5_DENSE, B5_LOOSE, B5_RED, B5_BLUE, B5_GREEN, B5_HAZE)
draw_small((430, 584, 1065, 1137.5), B6_DENSE, B6_LOOSE, B6_RED, B6_BLUE, B6_GREEN, B6_HAZE)

# waveforms
KT_A, KU_A, KT_B, KU_B = 4.85, 1.54, 5.2, 0.76  # microseconds and microvolts per reading unit
wa = dict(base_level=787, kt=KT_A, ku=KU_A, px_scale=2.44, top=486.7, bottom=603.3, lv_top=620, lv_bot=970)
f1 = draw_wave([(WA1_RED, WRED, 1), (WA1_GREEN, WGREEN, 1), (WA1_BLUE, WBLUE, 1), (WA1_BLACK, "black", 1.2)],
               start=20, end=400, px_left=8.2, base_line=787, **wa)
draw_wave([(WA2_RED, WRED, 1), (WA2_GREEN, WGREEN, 1), (WA2_BLUE, WBLUE, 1), (WA2_BLACK, "black", 1.2)],
          start=400, end=780, px_left=164, base_line=783, **wa)
draw_wave([(WA3_RED, WRED, 1), (WA3_GREEN, WGREEN, 1), (WA3_BLUE, WBLUE, 1), (WA3_BLACK, "black", 1.2)],
          start=780, end=1165, px_left=320, base_line=779, **wa)
draw_wave([(WA4_RED, WRED, 1), (WA4_GREEN, WGREEN, 1), (WA4_BLUE, WBLUE, 1), (WA4_BLACK, "black", 1.2)],
          start=1165, end=1550, px_left=477.5, base_line=775, **wa)
fig.add_trace(go.Scatter(x=[204, 204, 704], y=[-149, -274, -274], mode="lines", line=dict(color="black", width=1.5),
                         xaxis=f1[0], yaxis=f1[1], hoverinfo="skip"))
wb = dict(base_level=788, kt=KT_B, ku=KU_B, px_scale=2.44, top=1170, bottom=1266.7, lv_top=630, lv_bot=920)
f1b = draw_wave([(WB1_RED, WRED, 1), (WB1_GREEN, WGREEN, 1), (WB1_BLUE, WBLUE, 1), (WB1_BLACK, "black", 1.2)],
                start=180, end=563, px_left=73.8, base_line=788, **wb)
draw_wave([(WB2_RED, WRED, 1), (WB2_GREEN, WGREEN, 1), (WB2_BLUE, WBLUE, 1), (WB2_BLACK, "black", 1.2)],
          start=628, end=1010, px_left=257.4, base_line=791, **wb)
draw_wave([(WB3_RED, WRED, 1), (WB3_GREEN, WGREEN, 1), (WB3_BLUE, WBLUE, 1), (WB3_BLACK, "black", 1.2)],
          start=1067, end=1450, px_left=437.3, base_line=795, **wb)
fig.add_trace(go.Scatter(x=[10, 10, 510], y=[-33.5, -96.5, -96.5], mode="lines", line=dict(color="black", width=1.5),
                         xaxis=f1b[0], yaxis=f1b[1], hoverinfo="skip"))

# texts
label(21, 22, "A", size=36, color="#111111")
label(20, 672, "B", size=36, color="#111111")
label(233.5, 4, "ROOM/060505FRM9-BC-t0123.P2C4", size=6.5, family="Liberation Serif")
label(245, 656, "ROOM/050907EU10-BC-cl03.P3C3", size=6.5, family="Liberation Serif")
for x, y, t in [(255, 60, "Field 4"), (371, 55, "Field 3"), (273, 199, "Field 1"), (351, 202, "Field 2"),
                (412, 767, "Field 2"), (338, 797, "Field 3"), (256, 892, "Field 1")]:
    label(x, y, t, size=13, color="white")
label(181, 272, "Red = 13.88", size=11, family="Liberation Serif", anchor="left", color="black")
label(181, 284, "L.blue = 0.63", size=11, family="Liberation Serif", anchor="left", color="black")
label(204, 937, "Red = 15.83", size=11, family="Liberation Serif", anchor="left", color="black")
label(204, 949, "L.blue = 0.93", size=11, family="Liberation Serif", anchor="left", color="black")
for row_y in (376, 474):
    for x in (137, 320, 501):
        label(x, row_y, "peak 2")
for row_y in (1047, 1146):
    for x in (142, 325, 506):
        label(x, row_y, "peak 1")
for x, y, t in [(52, 332, "peak 1"), (234, 332, "peak 3"), (415, 332, "peak 4"),
                (52, 428, "Energy 2"), (234, 428, "Energy 4"), (415, 437, "PC 1"),
                (57, 1003, "peak 2"), (240, 1003, "peak 3"), (421, 1003, "peak 4"),
                (57, 1095, "Energy 1"), (240, 1103, "PC 1"), (421, 1107, "PC 2")]:
    label(x, y, t, angle=-90)
for x, t in [(70, "Field 1"), (218, "Field 2"), (387, "Field 3"), (552, "Field 4")]:
    label(x, 584, t)
for x, t in [(156, "Field 1"), (339, "Field 2"), (519, "Field 3")]:
    label(x, 1271.5, t)
label(16, 588, "125uV", size=10, angle=-90)
label(61, 1252, "63 uV", size=10, angle=-90)
label(47, 613, "500us", size=10, bold=True)
label(91, 1273, "500us", size=10, bold=True)

pointer(172, 330, 70, 215)
pointer(546, 336, 546, 215)
pointer(196, 988, 150, 955)
pointer(561, 999, 527, 953)

layout["shapes"] = shapes
layout["annotations"] = annotations
fig.update_layout(**layout)
fig.write_html("out.html", config=dict(displayModeBar=False), post_script="document.body.style.margin='0';")
